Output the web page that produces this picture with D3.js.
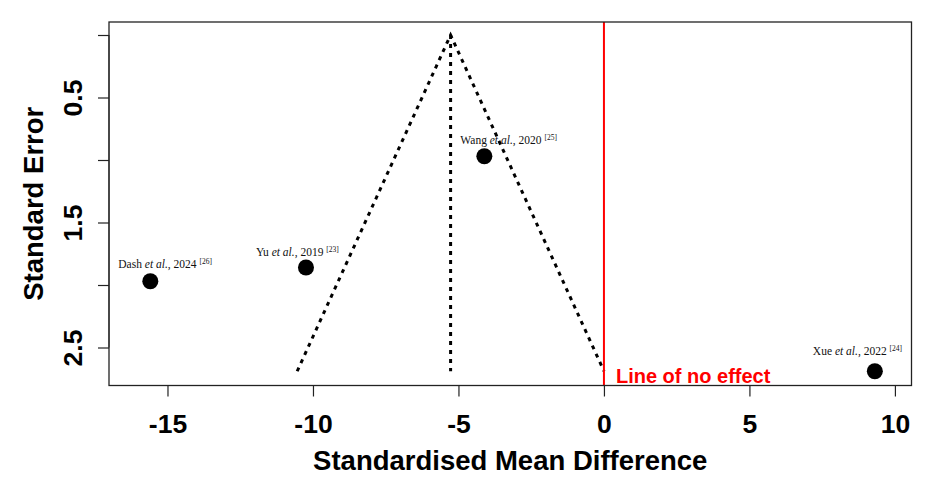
<!DOCTYPE html>
<html>
<head>
<meta charset="utf-8">
<script src="https://cdn.jsdelivr.net/npm/d3@7"></script>
<style>
  body { margin: 0; background: #fff; }
  svg { display: block; }
</style>
</head>
<body>
<svg id="chart" width="935" height="496"></svg>
<script>
// study data
const authors = ["Dash", "Yu", "Wang", "Xue"];
const years = [2024, 2019, 2020, 2022];
const refs = [26, 23, 25, 24];
const smd = [-15.59, -10.24, -4.11, 9.31];
const se = [1.97, 1.86, 0.97, 2.69];
const pooled = -5.27;
const xTicks = [-15, -10, -5, 0, 5, 10];
const yTicks = [0, 0.5, 1, 1.5, 2, 2.5];
const yLabelled = [0.5, 1.5, 2.5];

const svg = d3.select("#chart");
const margin = { top: 22, right: 23.5, bottom: 110.5, left: 109 };
const W = 935, H = 496;

const x = d3.scaleLinear().domain([-17.01, 10.57]).range([margin.left, W - margin.right]);
const y = d3.scaleLinear().domain([-0.104, 2.804]).range([margin.top, H - margin.bottom]);

const sans = "Liberation Sans, Arial, Helvetica, sans-serif";
const serif = "Liberation Serif, Times New Roman, serif";

// funnel (pseudo 95% limits)
const seMax = d3.max(se);
const dotted = "4,5";
const funnel = d3.line().x(d => x(d[0])).y(d => y(d[1]));
svg.append("path")
  .attr("d", funnel([[pooled - 1.96 * seMax, seMax], [pooled, 0], [pooled + 1.96 * seMax, seMax]]))
  .attr("fill", "none")
  .attr("stroke", "black")
  .attr("stroke-width", 3)
  .attr("stroke-dasharray", dotted);
svg.append("line")
  .attr("x1", x(pooled)).attr("x2", x(pooled))
  .attr("y1", y(0)).attr("y2", y(seMax))
  .attr("stroke", "black")
  .attr("stroke-width", 3)
  .attr("stroke-dasharray", dotted);

// line of no effect
svg.append("line")
  .attr("x1", x(0)).attr("x2", x(0))
  .attr("y1", margin.top).attr("y2", H - margin.bottom)
  .attr("stroke", "#ff0000")
  .attr("stroke-width", 2);
svg.append("text")
  .attr("x", x(0) + 12)
  .attr("y", H - margin.bottom - 2.5)
  .attr("fill", "#ff0000")
  .attr("font-family", sans)
  .attr("font-weight", "bold")
  .attr("font-size", "20px")
  .text("Line of no effect");

// studies
const studies = authors.map((a, i) => ({ author: a, year: years[i], ref: refs[i], smd: smd[i], se: se[i] }));
// label placement relative to each point
const labelOffset = [[-32, -13], [-50, -12], [-24, -12], [-62, -16]];

svg.selectAll("circle.study")
  .data(studies)
  .join("circle")
  .attr("class", "study")
  .attr("cx", d => x(d.smd))
  .attr("cy", d => y(d.se))
  .attr("r", 8)
  .attr("fill", "black");

const labels = svg.selectAll("text.study")
  .data(studies)
  .join("text")
  .attr("class", "study")
  .attr("x", (d, i) => x(d.smd) + labelOffset[i][0])
  .attr("y", (d, i) => y(d.se) + labelOffset[i][1])
  .attr("font-family", serif)
  .attr("font-size", "11.5px")
  .attr("fill", "#111");
labels.append("tspan").text(d => d.author + " ");
labels.append("tspan").attr("font-style", "italic").text("et al.");
labels.append("tspan").text(d => ", " + d.year + " ");
labels.append("tspan").attr("font-size", "7.5px").attr("dy", -4).text(d => "[" + d.ref + "]");

// frame
svg.append("rect")
  .attr("x", margin.left).attr("y", margin.top)
  .attr("width", W - margin.left - margin.right)
  .attr("height", H - margin.top - margin.bottom)
  .attr("fill", "none")
  .attr("stroke", "#222")
  .attr("stroke-width", 1.3);

// x axis
const xAxis = svg.append("g")
  .attr("transform", `translate(0,${H - margin.bottom})`)
  .call(d3.axisBottom(x).tickValues(xTicks).tickSize(11).tickSizeOuter(0).tickFormat(d3.format("d")));
xAxis.select(".domain")
  .attr("d", `M${x(xTicks[0])},0H${x(xTicks[xTicks.length - 1])}`)
  .attr("stroke", "#222");
xAxis.selectAll(".tick line").attr("stroke", "#222").attr("stroke-width", 1.2);
xAxis.selectAll(".tick text")
  .attr("y", 29)
  .attr("dy", "0.71em")
  .attr("font-family", sans)
  .attr("font-weight", "bold")
  .attr("font-size", "26.5px")
  .attr("fill", "black")
  .text(d => d < 0 ? "-" + Math.abs(d) : d);

// y axis
const yAxis = svg.append("g")
  .attr("transform", `translate(${margin.left},0)`)
  .call(d3.axisLeft(y).tickValues(yTicks).tickSize(11).tickSizeOuter(0)
    .tickFormat(d => yLabelled.includes(d) ? d3.format(".1f")(d) : ""));
yAxis.select(".domain")
  .attr("d", `M0,${y(yTicks[0])}V${y(yTicks[yTicks.length - 1])}`)
  .attr("stroke", "#222");
yAxis.selectAll(".tick line").attr("stroke", "#222").attr("stroke-width", 1.2);
yAxis.selectAll(".tick text")
  .attr("x", null).attr("dy", null)
  .attr("transform", "translate(-27,0) rotate(-90)")
  .attr("text-anchor", "middle")
  .attr("font-family", sans)
  .attr("font-weight", "bold")
  .attr("font-size", "26.5px")
  .attr("fill", "black");

// axis titles
svg.append("text")
  .attr("x", (margin.left + W - margin.right) / 2)
  .attr("y", 470)
  .attr("text-anchor", "middle")
  .attr("font-family", sans)
  .attr("font-weight", "bold")
  .attr("font-size", "27.5px")
  .text("Standardised Mean Difference");

svg.append("text")
  .attr("transform", `translate(43,${(margin.top + H - margin.bottom) / 2}) rotate(-90)`)
  .attr("text-anchor", "middle")
  .attr("font-family", sans)
  .attr("font-weight", "bold")
  .attr("font-size", "27.5px")
  .text("Standard Error");
</script>
</body>
</html>
